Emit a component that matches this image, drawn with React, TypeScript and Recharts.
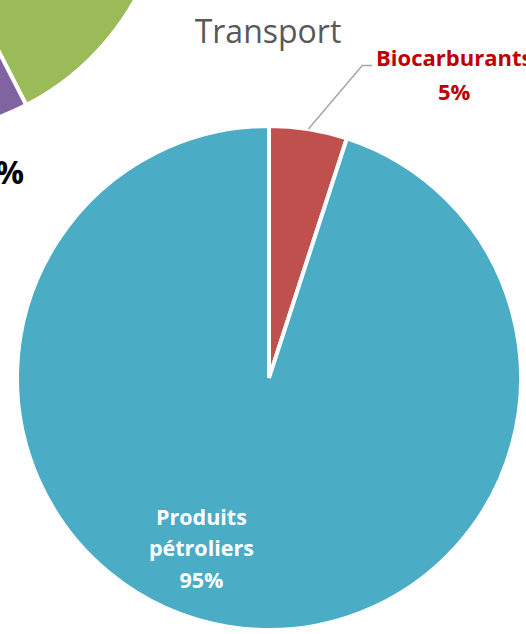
import { PieChart, Pie, Cell } from 'recharts';

// Transport pie
const categories = ['Biocarburants', 'Produits pétroliers'];
const shares = [5, 95];
const sliceColors = ['#C0504D', '#4BACC6'];

// neighbouring chart, only its lower-right corner shows
const neighbourShares = [27, 12, 61];
const neighbourColors = ['#9BBB59', '#8064A2', '#4BACC6'];

const title = 'Transport';
const font = "'Open Sans', 'DejaVu Sans', sans-serif";

const transportData = categories.map((name, i) => ({ name, value: shares[i] }));
const neighbourData = neighbourShares.map((value, i) => ({ name: `n${i}`, value }));

const RAD = Math.PI / 180;

function TransportLabel(props: any) {
    const { cx, cy, outerRadius, midAngle, index, value } = props;
    if (index === 0) {
        // leader line goes out to the right, text above
        const sx = cx + outerRadius * Math.cos(-midAngle * RAD);
        const sy = cy + outerRadius * Math.sin(-midAngle * RAD);
        const ex = cx + outerRadius * 0.37;
        const ey = cy - outerRadius * 1.24;
        const tx = cx + outerRadius * 0.735;
        return (
            <g>
                <polyline
                    points={`${sx},${sy} ${ex},${ey} ${ex + 10},${ey}`}
                    fill="none"
                    stroke="#A6A6A6"
                    strokeWidth={1.5}
                />
                <text x={tx} y={ey} textAnchor="middle" fill="#C00000" fontFamily={font} fontWeight={700} fontSize={22}>
                    <tspan x={tx} dy={0}>{categories[0]}</tspan>
                    <tspan x={tx} dy={34}>{value}%</tspan>
                </text>
            </g>
        );
    }
    const tx = cx - outerRadius * 0.268;
    const ty = cy + outerRadius * 0.585;
    return (
        <text x={tx} y={ty} textAnchor="middle" fill="#FFFFFF" fontFamily={font} fontWeight={700} fontSize={21.5}>
            <tspan x={tx} dy={0}>Produits</tspan>
            <tspan x={tx} dy={31}>pétroliers</tspan>
            <tspan x={tx} dy={32}>{value}%</tspan>
        </text>
    );
}

export default function App() {
    return (
        <div style={{ width: 526, height: 634, position: 'absolute', left: 0, top: 0, background: '#FFFFFF' }}>
            <style>{'body{margin:0}'}</style>
            <PieChart width={526} height={634} margin={{ top: 0, right: 0, bottom: 0, left: 0 }}>
                <Pie
                    data={neighbourData}
                    dataKey="value"
                    cx={-93}
                    cy={-127}
                    outerRadius={261}
                    startAngle={34.4}
                    endAngle={34.4 - 360}
                    stroke="#FFFFFF"
                    strokeWidth={4}
                    isAnimationActive={false}
                    labelLine={false}
                    label={false}
                >
                    {neighbourData.map((_, i) => (
                        <Cell key={`n-${i}`} fill={neighbourColors[i]} />
                    ))}
                </Pie>
                <Pie
                    data={transportData}
                    dataKey="value"
                    cx={269}
                    cy={378}
                    outerRadius={252}
                    startAngle={90}
                    endAngle={-270}
                    stroke="#FFFFFF"
                    strokeWidth={4}
                    isAnimationActive={false}
                    labelLine={false}
                    label={TransportLabel}
                >
                    {transportData.map((_, i) => (
                        <Cell key={`t-${i}`} fill={sliceColors[i]} />
                    ))}
                </Pie>
                <text x={268} y={43} textAnchor="middle" fill="#595959" fontFamily={font} fontSize={32}>
                    {title}
                </text>
                <text x={62} y={3} textAnchor="middle" fill="#FFFFFF" fontFamily={font} fontWeight={700} fontSize={21}>
                    {neighbourShares[0]}%
                </text>
                <text x={24} y={184} textAnchor="end" fill="#000000" fontFamily={font} fontWeight={700} fontSize={32}>
                    {neighbourShares[1]}%
                </text>
            </PieChart>
        </div>
    );
}
